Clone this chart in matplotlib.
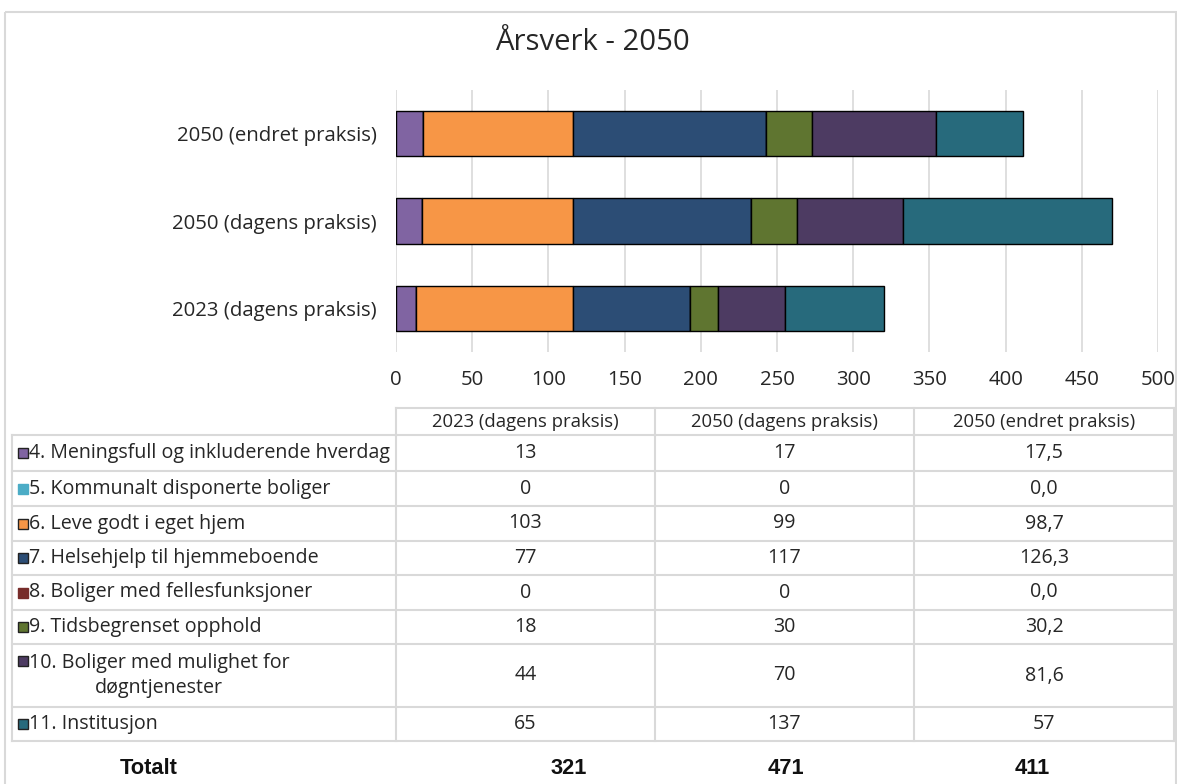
import matplotlib
matplotlib.use("Agg")
import matplotlib.pyplot as plt
from matplotlib.patches import Rectangle
from matplotlib.lines import Line2D

# ---- data ----
scenarios = ["2023 (dagens praksis)", "2050 (dagens praksis)", "2050 (endret praksis)"]
categories = [
    "4. Meningsfull og inkluderende hverdag",
    "5. Kommunalt disponerte boliger",
    "6. Leve godt i eget hjem",
    "7. Helsehjelp til hjemmeboende",
    "8. Boliger med fellesfunksjoner",
    "9. Tidsbegrenset opphold",
    "10. Boliger med mulighet for\ndøgntjenester",
    "11. Institusjon",
]
values = {
    "2023 (dagens praksis)": [13, 0, 103, 77, 0, 18, 44, 65],
    "2050 (dagens praksis)": [17, 0, 99, 117, 0, 30, 70, 137],
    "2050 (endret praksis)": [17.5, 0.0, 98.7, 126.3, 0.0, 30.2, 81.6, 57],
}
value_labels = {
    "2023 (dagens praksis)": ["13", "0", "103", "77", "0", "18", "44", "65"],
    "2050 (dagens praksis)": ["17", "0", "99", "117", "0", "30", "70", "137"],
    "2050 (endret praksis)": ["17,5", "0,0", "98,7", "126,3", "0,0", "30,2", "81,6", "57"],
}
totals = [321, 471, 411]
colors = ["#8064A2", "#4BACC6", "#F79646", "#2C4D75", "#772C2A", "#5F7530", "#4D3B62", "#276A7C"]
key_edge = [True, False, True, True, False, True, True, True]
xticks = [0, 50, 100, 150, 200, 250, 300, 350, 400, 450, 500]
title = "Årsverk - 2050"

W, H = 1177, 784
FONT = "Open Sans"
BOLD = ["Liberation Sans Narrow", "Liberation Sans"]
TXT = "#262626"
fig = plt.figure(figsize=(W / 100, H / 100), dpi=100)
renderer = fig.canvas.get_renderer()


def fit(texts, target):
    """Scale the font size of a group so the first text gets the target pixel width."""
    w = texts[0].get_window_extent(renderer=renderer).width
    s = texts[0].get_fontsize() * target / w
    for t in texts:
        t.set_fontsize(s)


# overlay axes in pixel coordinates for frame & table
ov = fig.add_axes([0, 0, 1, 1])
ov.set_xlim(0, W)
ov.set_ylim(H, 0)
ov.axis("off")
ov.add_patch(Rectangle((4.5, 11.5), 1171, 790, fill=False, edgecolor="#D9D9D9", lw=1.5))

# ---- chart ----
ax = fig.add_axes([396 / W, 1 - 352 / H, (1158 - 396) / W, (352 - 90) / H])
ypos = list(range(len(scenarios)))
lefts = [0.0] * len(scenarios)
for ci, cat in enumerate(categories):
    vals = [values[s][ci] for s in scenarios]
    ax.barh(ypos, vals, left=lefts, height=0.52, color=colors[ci],
            edgecolor="black", linewidth=1.0, zorder=3)
    lefts = [l + v for l, v in zip(lefts, vals)]
ax.set_xlim(0, 500)
ax.set_ylim(-0.5, 2.5)
ax.set_xticks(xticks)
xtl = ax.set_xticklabels([str(t) for t in xticks], fontfamily=FONT, fontsize=12, color=TXT)
ax.set_yticks(ypos)
ytl = ax.set_yticklabels(scenarios, fontfamily=FONT, fontsize=12, color=TXT)
ax.tick_params(axis="both", length=0)
ax.tick_params(axis="x", pad=13)
ax.tick_params(axis="y", pad=14)
ax.grid(axis="x", color="#D9D9D9", lw=1.2, zorder=0)
for sp in ax.spines.values():
    sp.set_visible(False)
ax.set_facecolor("none")
fit(list(ytl) + list(xtl), 204)

tt = ov.text(592, 42, title, ha="center", va="center", fontfamily=FONT, fontsize=18, color=TXT)
fit([tt], 194)

# ---- table ----
grid_c = "#D9D9D9"
col_x = [12, 396, 655, 914, 1174]
row_y = [435, 471, 506, 541, 575, 610, 644, 707, 741]
lw = 1.5
# header
ov.add_line(Line2D([396, 1174], [408, 408], color=grid_c, lw=lw))
for x in col_x[1:]:
    ov.add_line(Line2D([x, x], [408, 435], color=grid_c, lw=lw))
hdr = []
for si, s in enumerate(scenarios):
    cx = (col_x[si + 1] + col_x[si + 2]) / 2
    hdr.append(ov.text(cx, 421.5, s, ha="center", va="center", fontfamily=FONT,
                       fontsize=12, color=TXT))
fit(hdr, 186)
# body
for y in row_y:
    ov.add_line(Line2D([12, 1174], [y, y], color=grid_c, lw=lw))
for x in col_x:
    ov.add_line(Line2D([x, x], [row_y[0], row_y[-1]], color=grid_c, lw=lw))
body = []
for ci, cat in enumerate(categories):
    cy = (row_y[ci] + row_y[ci + 1]) / 2
    nlines = cat.count("\n") + 1
    ky = cy - (nlines - 1) * 15
    ov.add_patch(Rectangle((17.5, ky - 5), 10, 10, facecolor=colors[ci],
                           edgecolor="#222222" if key_edge[ci] else colors[ci], lw=1.0))
    body.append(ov.text(29, cy, cat, ha="left", va="center", fontfamily=FONT, fontsize=12,
                        color=TXT, multialignment="center", linespacing=1.35))
    for si, s in enumerate(scenarios):
        cx = (col_x[si + 1] + col_x[si + 2]) / 2
        body.append(ov.text(cx, cy, value_labels[s][ci], ha="center", va="center",
                            fontfamily=FONT, fontsize=12, color=TXT))
fit(body, 360)

# totals
tot_x = [569, 786, 1032]
tl = [ov.text(149, 769, "Totalt", ha="center", va="center", fontfamily=BOLD,
              fontweight="bold", fontsize=16, color="#111111")]
for si, t in enumerate(totals):
    tl.append(ov.text(tot_x[si], 769, str(t), ha="center", va="center", fontfamily=BOLD,
                      fontweight="bold", fontsize=16, color="#111111"))
fit(tl, 58)

fig.savefig("out.png", dpi=100, facecolor="white")
